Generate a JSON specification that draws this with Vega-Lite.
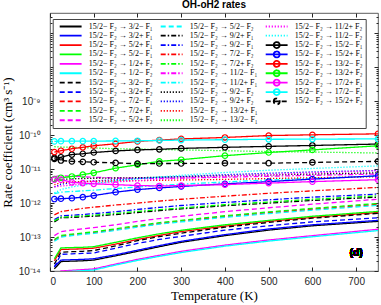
{
"$schema": "https://vega.github.io/schema/vega-lite/v6.json",
"width": 328, "height": 258,
"autosize": {"type": "none"},
"padding": {"left": 50, "top": 13, "right": 3, "bottom": 34},
"title": {"text": "OH-oH2 rates", "fontSize": 10, "fontWeight": "bold", "font": "Liberation Sans", "anchor": "middle", "offset": 3, "color": "black"},
"config": {"view": {"stroke": "#333333", "strokeWidth": 0.8}, "font": "Liberation Sans"},
"data": {"values": [
{"s":"3/2− F₁","T":10,"k":1.15e-14},{"s":"3/2− F₁","T":25,"k":1.9e-14},{"s":"3/2− F₁","T":50,"k":1.95e-14},{"s":"3/2− F₁","T":75,"k":2.0e-14},{"s":"3/2− F₁","T":100,"k":2.1e-14},{"s":"3/2− F₁","T":150,"k":2.8e-14},{"s":"3/2− F₁","T":200,"k":3.8e-14},{"s":"3/2− F₁","T":250,"k":5.2e-14},{"s":"3/2− F₁","T":300,"k":7.0e-14},{"s":"3/2− F₁","T":400,"k":1.1e-13},{"s":"3/2− F₁","T":500,"k":1.6e-13},{"s":"3/2− F₁","T":600,"k":2.15e-13},{"s":"3/2− F₁","T":750,"k":2.9e-13},
{"s":"3/2+ F₁","T":10,"k":1.35e-14},{"s":"3/2+ F₁","T":25,"k":2.1e-14},{"s":"3/2+ F₁","T":50,"k":2.15e-14},{"s":"3/2+ F₁","T":75,"k":2.2e-14},{"s":"3/2+ F₁","T":100,"k":2.3e-14},{"s":"3/2+ F₁","T":150,"k":3.0e-14},{"s":"3/2+ F₁","T":200,"k":4.1e-14},{"s":"3/2+ F₁","T":250,"k":5.6e-14},{"s":"3/2+ F₁","T":300,"k":7.5e-14},{"s":"3/2+ F₁","T":400,"k":1.18e-13},{"s":"3/2+ F₁","T":500,"k":1.73e-13},{"s":"3/2+ F₁","T":600,"k":2.3e-13},{"s":"3/2+ F₁","T":750,"k":3.1e-13},
{"s":"5/2+ F₁","T":10,"k":2.0e-14},{"s":"5/2+ F₁","T":25,"k":4.3e-14},{"s":"5/2+ F₁","T":50,"k":4.4e-14},{"s":"5/2+ F₁","T":75,"k":4.5e-14},{"s":"5/2+ F₁","T":100,"k":4.7e-14},{"s":"5/2+ F₁","T":150,"k":6.2e-14},{"s":"5/2+ F₁","T":200,"k":8.5e-14},{"s":"5/2+ F₁","T":250,"k":1.12e-13},{"s":"5/2+ F₁","T":300,"k":1.45e-13},{"s":"5/2+ F₁","T":400,"k":2.1e-13},{"s":"5/2+ F₁","T":500,"k":2.9e-13},{"s":"5/2+ F₁","T":600,"k":3.8e-13},{"s":"5/2+ F₁","T":750,"k":5.3e-13},
{"s":"5/2− F₁","T":10,"k":2.3e-14},{"s":"5/2− F₁","T":25,"k":4.8e-14},{"s":"5/2− F₁","T":50,"k":4.9e-14},{"s":"5/2− F₁","T":75,"k":5.0e-14},{"s":"5/2− F₁","T":100,"k":5.2e-14},{"s":"5/2− F₁","T":150,"k":7.0e-14},{"s":"5/2− F₁","T":200,"k":9.5e-14},{"s":"5/2− F₁","T":250,"k":1.25e-13},{"s":"5/2− F₁","T":300,"k":1.58e-13},{"s":"5/2− F₁","T":400,"k":2.3e-13},{"s":"5/2− F₁","T":500,"k":3.1e-13},{"s":"5/2− F₁","T":600,"k":4.1e-13},{"s":"5/2− F₁","T":750,"k":5.7e-13},
{"s":"1/2+ F₂","T":10,"k":6.0e-15},{"s":"1/2+ F₂","T":25,"k":1.0e-14},{"s":"1/2+ F₂","T":50,"k":1.05e-14},{"s":"1/2+ F₂","T":75,"k":1.1e-14},{"s":"1/2+ F₂","T":100,"k":1.15e-14},{"s":"1/2+ F₂","T":150,"k":1.6e-14},{"s":"1/2+ F₂","T":200,"k":2.2e-14},{"s":"1/2+ F₂","T":250,"k":2.9e-14},{"s":"1/2+ F₂","T":300,"k":3.8e-14},{"s":"1/2+ F₂","T":400,"k":5.8e-14},{"s":"1/2+ F₂","T":500,"k":8.2e-14},{"s":"1/2+ F₂","T":600,"k":1.1e-13},{"s":"1/2+ F₂","T":750,"k":1.7e-13},
{"s":"1/2− F₂","T":10,"k":5.6e-15},{"s":"1/2− F₂","T":25,"k":9.5e-15},{"s":"1/2− F₂","T":50,"k":9.8e-15},{"s":"1/2− F₂","T":75,"k":1.02e-14},{"s":"1/2− F₂","T":100,"k":1.07e-14},{"s":"1/2− F₂","T":150,"k":1.5e-14},{"s":"1/2− F₂","T":200,"k":2.05e-14},{"s":"1/2− F₂","T":250,"k":2.7e-14},{"s":"1/2− F₂","T":300,"k":3.5e-14},{"s":"1/2− F₂","T":400,"k":5.4e-14},{"s":"1/2− F₂","T":500,"k":7.6e-14},{"s":"1/2− F₂","T":600,"k":1.02e-13},{"s":"1/2− F₂","T":750,"k":1.55e-13},
{"s":"3/2− F₂","T":10,"k":1.6e-14},{"s":"3/2− F₂","T":25,"k":3.6e-14},{"s":"3/2− F₂","T":50,"k":3.7e-14},{"s":"3/2− F₂","T":75,"k":3.8e-14},{"s":"3/2− F₂","T":100,"k":4.0e-14},{"s":"3/2− F₂","T":150,"k":5.5e-14},{"s":"3/2− F₂","T":200,"k":7.8e-14},{"s":"3/2− F₂","T":250,"k":1.03e-13},{"s":"3/2− F₂","T":300,"k":1.3e-13},{"s":"3/2− F₂","T":400,"k":1.95e-13},{"s":"3/2− F₂","T":500,"k":2.7e-13},{"s":"3/2− F₂","T":600,"k":3.6e-13},{"s":"3/2− F₂","T":750,"k":5.0e-13},
{"s":"3/2+ F₂","T":10,"k":1.3e-14},{"s":"3/2+ F₂","T":25,"k":3.1e-14},{"s":"3/2+ F₂","T":50,"k":3.2e-14},{"s":"3/2+ F₂","T":75,"k":3.3e-14},{"s":"3/2+ F₂","T":100,"k":3.4e-14},{"s":"3/2+ F₂","T":150,"k":4.7e-14},{"s":"3/2+ F₂","T":200,"k":6.5e-14},{"s":"3/2+ F₂","T":250,"k":8.5e-14},{"s":"3/2+ F₂","T":300,"k":1.05e-13},{"s":"3/2+ F₂","T":400,"k":1.6e-13},{"s":"3/2+ F₂","T":500,"k":2.15e-13},{"s":"3/2+ F₂","T":600,"k":2.8e-13},{"s":"3/2+ F₂","T":750,"k":3.7e-13},
{"s":"7/2− F₁","T":10,"k":8.0e-14},{"s":"7/2− F₁","T":25,"k":1.05e-13},{"s":"7/2− F₁","T":50,"k":1.15e-13},{"s":"7/2− F₁","T":75,"k":1.25e-13},{"s":"7/2− F₁","T":100,"k":1.35e-13},{"s":"7/2− F₁","T":150,"k":1.65e-13},{"s":"7/2− F₁","T":200,"k":2.05e-13},{"s":"7/2− F₁","T":250,"k":2.5e-13},{"s":"7/2− F₁","T":300,"k":2.95e-13},{"s":"7/2− F₁","T":400,"k":4.0e-13},{"s":"7/2− F₁","T":500,"k":5.2e-13},{"s":"7/2− F₁","T":600,"k":6.6e-13},{"s":"7/2− F₁","T":750,"k":9.2e-13},
{"s":"7/2+ F₁","T":10,"k":8.5e-14},{"s":"7/2+ F₁","T":25,"k":1.12e-13},{"s":"7/2+ F₁","T":50,"k":1.22e-13},{"s":"7/2+ F₁","T":75,"k":1.32e-13},{"s":"7/2+ F₁","T":100,"k":1.42e-13},{"s":"7/2+ F₁","T":150,"k":1.75e-13},{"s":"7/2+ F₁","T":200,"k":2.18e-13},{"s":"7/2+ F₁","T":250,"k":2.65e-13},{"s":"7/2+ F₁","T":300,"k":3.1e-13},{"s":"7/2+ F₁","T":400,"k":4.25e-13},{"s":"7/2+ F₁","T":500,"k":5.5e-13},{"s":"7/2+ F₁","T":600,"k":7.0e-13},{"s":"7/2+ F₁","T":750,"k":9.8e-13},
{"s":"5/2+ F₂","T":10,"k":1.1e-13},{"s":"5/2+ F₂","T":25,"k":1.45e-13},{"s":"5/2+ F₂","T":50,"k":1.6e-13},{"s":"5/2+ F₂","T":75,"k":1.75e-13},{"s":"5/2+ F₂","T":100,"k":1.9e-13},{"s":"5/2+ F₂","T":150,"k":2.3e-13},{"s":"5/2+ F₂","T":200,"k":2.9e-13},{"s":"5/2+ F₂","T":250,"k":3.5e-13},{"s":"5/2+ F₂","T":300,"k":4.1e-13},{"s":"5/2+ F₂","T":400,"k":5.6e-13},{"s":"5/2+ F₂","T":500,"k":7.3e-13},{"s":"5/2+ F₂","T":600,"k":9.3e-13},{"s":"5/2+ F₂","T":750,"k":1.3e-12},
{"s":"5/2− F₂","T":10,"k":7.5e-14},{"s":"5/2− F₂","T":25,"k":1.0e-13},{"s":"5/2− F₂","T":50,"k":1.1e-13},{"s":"5/2− F₂","T":75,"k":1.2e-13},{"s":"5/2− F₂","T":100,"k":1.28e-13},{"s":"5/2− F₂","T":150,"k":1.58e-13},{"s":"5/2− F₂","T":200,"k":1.95e-13},{"s":"5/2− F₂","T":250,"k":2.4e-13},{"s":"5/2− F₂","T":300,"k":2.8e-13},{"s":"5/2− F₂","T":400,"k":3.8e-13},{"s":"5/2− F₂","T":500,"k":4.9e-13},{"s":"5/2− F₂","T":600,"k":6.2e-13},{"s":"5/2− F₂","T":750,"k":8.6e-13},
{"s":"9/2+ F₁","T":10,"k":2.8e-13},{"s":"9/2+ F₁","T":25,"k":3.7e-13},{"s":"9/2+ F₁","T":50,"k":3.8e-13},{"s":"9/2+ F₁","T":75,"k":3.95e-13},{"s":"9/2+ F₁","T":100,"k":4.1e-13},{"s":"9/2+ F₁","T":150,"k":4.6e-13},{"s":"9/2+ F₁","T":200,"k":5.3e-13},{"s":"9/2+ F₁","T":250,"k":6.0e-13},{"s":"9/2+ F₁","T":300,"k":6.8e-13},{"s":"9/2+ F₁","T":400,"k":8.4e-13},{"s":"9/2+ F₁","T":500,"k":1.0e-12},{"s":"9/2+ F₁","T":600,"k":1.2e-12},{"s":"9/2+ F₁","T":750,"k":1.5e-12},
{"s":"9/2− F₁","T":10,"k":3.3e-13},{"s":"9/2− F₁","T":25,"k":4.2e-13},{"s":"9/2− F₁","T":50,"k":4.4e-13},{"s":"9/2− F₁","T":75,"k":4.6e-13},{"s":"9/2− F₁","T":100,"k":4.9e-13},{"s":"9/2− F₁","T":150,"k":5.6e-13},{"s":"9/2− F₁","T":200,"k":6.5e-13},{"s":"9/2− F₁","T":250,"k":7.5e-13},{"s":"9/2− F₁","T":300,"k":8.5e-13},{"s":"9/2− F₁","T":400,"k":1.05e-12},{"s":"9/2− F₁","T":500,"k":1.25e-12},{"s":"9/2− F₁","T":600,"k":1.5e-12},{"s":"9/2− F₁","T":750,"k":1.85e-12},
{"s":"7/2− F₂","T":10,"k":4.5e-13},{"s":"7/2− F₂","T":25,"k":5.6e-13},{"s":"7/2− F₂","T":50,"k":6.3e-13},{"s":"7/2− F₂","T":75,"k":7.0e-13},{"s":"7/2− F₂","T":100,"k":7.6e-13},{"s":"7/2− F₂","T":150,"k":8.8e-13},{"s":"7/2− F₂","T":200,"k":1.0e-12},{"s":"7/2− F₂","T":250,"k":1.15e-12},{"s":"7/2− F₂","T":300,"k":1.3e-12},{"s":"7/2− F₂","T":400,"k":1.6e-12},{"s":"7/2− F₂","T":500,"k":1.95e-12},{"s":"7/2− F₂","T":600,"k":2.3e-12},{"s":"7/2− F₂","T":750,"k":2.9e-12},
{"s":"7/2+ F₂","T":10,"k":3.0e-13},{"s":"7/2+ F₂","T":25,"k":3.85e-13},{"s":"7/2+ F₂","T":50,"k":4.0e-13},{"s":"7/2+ F₂","T":75,"k":4.2e-13},{"s":"7/2+ F₂","T":100,"k":4.4e-13},{"s":"7/2+ F₂","T":150,"k":5.0e-13},{"s":"7/2+ F₂","T":200,"k":5.7e-13},{"s":"7/2+ F₂","T":250,"k":6.4e-13},{"s":"7/2+ F₂","T":300,"k":7.2e-13},{"s":"7/2+ F₂","T":400,"k":9.0e-13},{"s":"7/2+ F₂","T":500,"k":1.08e-12},{"s":"7/2+ F₂","T":600,"k":1.3e-12},{"s":"7/2+ F₂","T":750,"k":1.65e-12},
{"s":"11/2− F₁","T":10,"k":6.0e-12},{"s":"11/2− F₁","T":25,"k":6.5e-12},{"s":"11/2− F₁","T":50,"k":6.2e-12},{"s":"11/2− F₁","T":75,"k":6.0e-12},{"s":"11/2− F₁","T":100,"k":5.8e-12},{"s":"11/2− F₁","T":150,"k":5.5e-12},{"s":"11/2− F₁","T":200,"k":5.4e-12},{"s":"11/2− F₁","T":250,"k":5.4e-12},{"s":"11/2− F₁","T":300,"k":5.5e-12},{"s":"11/2− F₁","T":400,"k":5.8e-12},{"s":"11/2− F₁","T":500,"k":6.2e-12},{"s":"11/2− F₁","T":600,"k":6.6e-12},{"s":"11/2− F₁","T":750,"k":7.2e-12},
{"s":"11/2+ F₁","T":10,"k":1.9e-12},{"s":"11/2+ F₁","T":25,"k":2.1e-12},{"s":"11/2+ F₁","T":50,"k":2.2e-12},{"s":"11/2+ F₁","T":75,"k":2.3e-12},{"s":"11/2+ F₁","T":100,"k":2.4e-12},{"s":"11/2+ F₁","T":150,"k":2.7e-12},{"s":"11/2+ F₁","T":200,"k":3.0e-12},{"s":"11/2+ F₁","T":250,"k":3.3e-12},{"s":"11/2+ F₁","T":300,"k":3.6e-12},{"s":"11/2+ F₁","T":400,"k":4.2e-12},{"s":"11/2+ F₁","T":500,"k":4.8e-12},{"s":"11/2+ F₁","T":600,"k":5.4e-12},{"s":"11/2+ F₁","T":750,"k":6.2e-12},
{"s":"9/2− F₂","T":10,"k":4.5e-12},{"s":"9/2− F₂","T":25,"k":5.0e-12},{"s":"9/2− F₂","T":50,"k":5.2e-12},{"s":"9/2− F₂","T":75,"k":5.3e-12},{"s":"9/2− F₂","T":100,"k":5.4e-12},{"s":"9/2− F₂","T":150,"k":5.5e-12},{"s":"9/2− F₂","T":200,"k":5.6e-12},{"s":"9/2− F₂","T":250,"k":5.8e-12},{"s":"9/2− F₂","T":300,"k":6.0e-12},{"s":"9/2− F₂","T":400,"k":6.4e-12},{"s":"9/2− F₂","T":500,"k":6.8e-12},{"s":"9/2− F₂","T":600,"k":7.2e-12},{"s":"9/2− F₂","T":750,"k":7.8e-12},
{"s":"9/2+ F₂","T":10,"k":3.0e-12},{"s":"9/2+ F₂","T":25,"k":3.6e-12},{"s":"9/2+ F₂","T":50,"k":4.0e-12},{"s":"9/2+ F₂","T":75,"k":4.3e-12},{"s":"9/2+ F₂","T":100,"k":4.5e-12},{"s":"9/2+ F₂","T":150,"k":4.9e-12},{"s":"9/2+ F₂","T":200,"k":5.3e-12},{"s":"9/2+ F₂","T":250,"k":5.7e-12},{"s":"9/2+ F₂","T":300,"k":6.1e-12},{"s":"9/2+ F₂","T":400,"k":6.9e-12},{"s":"9/2+ F₂","T":500,"k":7.6e-12},{"s":"9/2+ F₂","T":600,"k":8.3e-12},{"s":"9/2+ F₂","T":750,"k":9.2e-12},
{"s":"13/2+ F₁","T":10,"k":3.5e-12},{"s":"13/2+ F₁","T":25,"k":4.0e-12},{"s":"13/2+ F₁","T":50,"k":4.2e-12},{"s":"13/2+ F₁","T":75,"k":4.3e-12},{"s":"13/2+ F₁","T":100,"k":4.4e-12},{"s":"13/2+ F₁","T":150,"k":4.5e-12},{"s":"13/2+ F₁","T":200,"k":4.6e-12},{"s":"13/2+ F₁","T":250,"k":4.7e-12},{"s":"13/2+ F₁","T":300,"k":4.8e-12},{"s":"13/2+ F₁","T":400,"k":5.0e-12},{"s":"13/2+ F₁","T":500,"k":5.3e-12},{"s":"13/2+ F₁","T":600,"k":5.6e-12},{"s":"13/2+ F₁","T":750,"k":6.0e-12},
{"s":"13/2− F₁","T":10,"k":4.6e-11},{"s":"13/2− F₁","T":25,"k":4.5e-11},{"s":"13/2− F₁","T":50,"k":4.4e-11},{"s":"13/2− F₁","T":75,"k":4.3e-11},{"s":"13/2− F₁","T":100,"k":4.2e-11},{"s":"13/2− F₁","T":150,"k":4.0e-11},{"s":"13/2− F₁","T":200,"k":3.9e-11},{"s":"13/2− F₁","T":250,"k":3.8e-11},{"s":"13/2− F₁","T":300,"k":3.7e-11},{"s":"13/2− F₁","T":400,"k":3.5e-11},{"s":"13/2− F₁","T":500,"k":3.3e-11},{"s":"13/2− F₁","T":600,"k":3.2e-11},{"s":"13/2− F₁","T":750,"k":3.0e-11},
{"s":"11/2+ F₂","T":10,"k":3.0e-12},{"s":"11/2+ F₂","T":25,"k":3.2e-12},{"s":"11/2+ F₂","T":50,"k":3.4e-12},{"s":"11/2+ F₂","T":75,"k":3.6e-12},{"s":"11/2+ F₂","T":100,"k":3.8e-12},{"s":"11/2+ F₂","T":150,"k":4.2e-12},{"s":"11/2+ F₂","T":200,"k":4.6e-12},{"s":"11/2+ F₂","T":250,"k":5.0e-12},{"s":"11/2+ F₂","T":300,"k":5.4e-12},{"s":"11/2+ F₂","T":400,"k":6.2e-12},{"s":"11/2+ F₂","T":500,"k":7.0e-12},{"s":"11/2+ F₂","T":600,"k":7.8e-12},{"s":"11/2+ F₂","T":750,"k":9.0e-12},
{"s":"11/2− F₂","T":10,"k":2.0e-12},{"s":"11/2− F₂","T":25,"k":2.5e-12},{"s":"11/2− F₂","T":50,"k":3.0e-12},{"s":"11/2− F₂","T":75,"k":3.4e-12},{"s":"11/2− F₂","T":100,"k":3.8e-12},{"s":"11/2− F₂","T":150,"k":4.5e-12},{"s":"11/2− F₂","T":200,"k":5.2e-12},{"s":"11/2− F₂","T":250,"k":5.9e-12},{"s":"11/2− F₂","T":300,"k":6.6e-12},{"s":"11/2− F₂","T":400,"k":8.0e-12},{"s":"11/2− F₂","T":500,"k":9.3e-12},{"s":"11/2− F₂","T":600,"k":1.05e-11},{"s":"11/2− F₂","T":750,"k":1.25e-11},
{"s":"15/2− F₁","T":10,"k":2.15e-11},{"s":"15/2− F₁","T":25,"k":2.25e-11},{"s":"15/2− F₁","T":50,"k":2.7e-11},{"s":"15/2− F₁","T":75,"k":2.85e-11},{"s":"15/2− F₁","T":100,"k":3.1e-11},{"s":"15/2− F₁","T":150,"k":3.45e-11},{"s":"15/2− F₁","T":200,"k":3.7e-11},{"s":"15/2− F₁","T":250,"k":3.85e-11},{"s":"15/2− F₁","T":300,"k":4.1e-11},{"s":"15/2− F₁","T":400,"k":4.4e-11},{"s":"15/2− F₁","T":500,"k":4.7e-11},{"s":"15/2− F₁","T":600,"k":5.0e-11},{"s":"15/2− F₁","T":750,"k":5.5e-11},
{"s":"15/2+ F₁","T":10,"k":1.32e-12},{"s":"15/2+ F₁","T":25,"k":1.35e-12},{"s":"15/2+ F₁","T":50,"k":1.4e-12},{"s":"15/2+ F₁","T":75,"k":1.5e-12},{"s":"15/2+ F₁","T":100,"k":1.67e-12},{"s":"15/2+ F₁","T":150,"k":2.1e-12},{"s":"15/2+ F₁","T":200,"k":2.5e-12},{"s":"15/2+ F₁","T":250,"k":2.8e-12},{"s":"15/2+ F₁","T":300,"k":3.1e-12},{"s":"15/2+ F₁","T":400,"k":3.7e-12},{"s":"15/2+ F₁","T":500,"k":4.3e-12},{"s":"15/2+ F₁","T":600,"k":5.1e-12},{"s":"15/2+ F₁","T":750,"k":6.4e-12},
{"s":"13/2− F₂","T":10,"k":3.2e-11},{"s":"13/2− F₂","T":25,"k":3.5e-11},{"s":"13/2− F₂","T":50,"k":4.0e-11},{"s":"13/2− F₂","T":75,"k":4.4e-11},{"s":"13/2− F₂","T":100,"k":4.9e-11},{"s":"13/2− F₂","T":150,"k":5.6e-11},{"s":"13/2− F₂","T":200,"k":6.6e-11},{"s":"13/2− F₂","T":250,"k":7.2e-11},{"s":"13/2− F₂","T":300,"k":7.8e-11},{"s":"13/2− F₂","T":400,"k":8.6e-11},{"s":"13/2− F₂","T":500,"k":9.8e-11},{"s":"13/2− F₂","T":600,"k":1.03e-10},{"s":"13/2− F₂","T":750,"k":1.1e-10},
{"s":"13/2+ F₂","T":10,"k":5.1e-12},{"s":"13/2+ F₂","T":25,"k":5.6e-12},{"s":"13/2+ F₂","T":50,"k":6.1e-12},{"s":"13/2+ F₂","T":75,"k":6.9e-12},{"s":"13/2+ F₂","T":100,"k":7.8e-12},{"s":"13/2+ F₂","T":150,"k":1.07e-11},{"s":"13/2+ F₂","T":200,"k":1.35e-11},{"s":"13/2+ F₂","T":250,"k":1.7e-11},{"s":"13/2+ F₂","T":300,"k":1.9e-11},{"s":"13/2+ F₂","T":400,"k":2.5e-11},{"s":"13/2+ F₂","T":500,"k":3.1e-11},{"s":"13/2+ F₂","T":600,"k":3.7e-11},{"s":"13/2+ F₂","T":750,"k":4.9e-11},
{"s":"17/2+ F₁","T":10,"k":4.9e-12},{"s":"17/2+ F₁","T":25,"k":4.9e-12},{"s":"17/2+ F₁","T":50,"k":4.1e-12},{"s":"17/2+ F₁","T":75,"k":3.9e-12},{"s":"17/2+ F₁","T":100,"k":3.7e-12},{"s":"17/2+ F₁","T":150,"k":3.5e-12},{"s":"17/2+ F₁","T":200,"k":3.3e-12},{"s":"17/2+ F₁","T":250,"k":3.2e-12},{"s":"17/2+ F₁","T":300,"k":3.3e-12},{"s":"17/2+ F₁","T":400,"k":3.5e-12},{"s":"17/2+ F₁","T":500,"k":3.9e-12},{"s":"17/2+ F₁","T":600,"k":4.3e-12},{"s":"17/2+ F₁","T":750,"k":4.9e-12},
{"s":"17/2− F₁","T":10,"k":6.6e-11},{"s":"17/2− F₁","T":25,"k":6.7e-11},{"s":"17/2− F₁","T":50,"k":6.7e-11},{"s":"17/2− F₁","T":75,"k":6.7e-11},{"s":"17/2− F₁","T":100,"k":6.7e-11},{"s":"17/2− F₁","T":150,"k":6.8e-11},{"s":"17/2− F₁","T":200,"k":6.9e-11},{"s":"17/2− F₁","T":250,"k":7.0e-11},{"s":"17/2− F₁","T":300,"k":7.2e-11},{"s":"17/2− F₁","T":400,"k":7.4e-11},{"s":"17/2− F₁","T":500,"k":7.6e-11},{"s":"17/2− F₁","T":600,"k":7.7e-11},{"s":"17/2− F₁","T":750,"k":7.8e-11},
{"s":"15/2+ F₂","T":10,"k":2.0e-11},{"s":"15/2+ F₂","T":25,"k":1.8e-11},{"s":"15/2+ F₂","T":50,"k":1.7e-11},{"s":"15/2+ F₂","T":75,"k":1.65e-11},{"s":"15/2+ F₂","T":100,"k":1.6e-11},{"s":"15/2+ F₂","T":150,"k":1.53e-11},{"s":"15/2+ F₂","T":200,"k":1.45e-11},{"s":"15/2+ F₂","T":250,"k":1.47e-11},{"s":"15/2+ F₂","T":300,"k":1.47e-11},{"s":"15/2+ F₂","T":400,"k":1.5e-11},{"s":"15/2+ F₂","T":500,"k":1.5e-11},{"s":"15/2+ F₂","T":600,"k":1.58e-11},{"s":"15/2+ F₂","T":750,"k":1.7e-11}
]},
"resolve": {"axis": {"x": "independent", "y": "independent"}},
"layer": [
{
"mark": {"type": "line", "strokeWidth": 1.3, "clip": true},
"encoding": {
"x": {"field": "T", "type": "quantitative", "scale": {"domain": [0, 750], "nice": false, "zero": false},
  "axis": {"orient": "bottom", "values": [0,100,200,300,400,500,600,700], "tickSize": -4, "tickColor": "#262626", "labelPadding": 9, "labelFontSize": 10, "labelColor": "#262626", "domain": false, "grid": false, "title": "Temperature (K)", "titleFont": "Liberation Serif", "titleFontSize": 13, "titleFontWeight": "normal", "titleColor": "black", "titlePadding": 3}},
"y": {"field": "k", "type": "quantitative", "scale": {"type": "log", "domain": [1e-14, 4e-7], "nice": false},
  "axis": {"orient": "left", "values": [1e-14,1e-13,1e-12,1e-11,1e-10,1e-9,1e-8,1e-7], "tickSize": -4, "tickColor": "#262626", "labelPadding": 14, "labelFontSize": 10, "labelColor": "#262626", "domain": false, "grid": false,
  "labelExpr": "datum.value < 1.5e-14 ? '10⁻¹⁴' : datum.value < 1.5e-13 ? '10⁻¹³' : datum.value < 1.5e-12 ? '10⁻¹²' : datum.value < 1.5e-11 ? '10⁻¹¹' : datum.value < 1.5e-10 ? '10⁻¹⁰' : datum.value < 1.5e-9 ? '10⁻⁹' : ''",
  "title": "Rate coefficient (cm³ s⁻¹)", "titleFont": "Liberation Serif", "titleFontSize": 13, "titleFontWeight": "normal", "titleColor": "black", "titlePadding": 4}},
"color": {"field": "s", "type": "nominal",
  "scale": {"domain": ["3/2− F₁","3/2+ F₁","5/2+ F₁","5/2− F₁","1/2+ F₂","1/2− F₂","3/2− F₂","3/2+ F₂","7/2− F₁","7/2+ F₁","5/2+ F₂","5/2− F₂","9/2+ F₁","9/2− F₁","7/2− F₂","7/2+ F₂","11/2− F₁","11/2+ F₁","9/2− F₂","9/2+ F₂","13/2+ F₁","13/2− F₁","11/2+ F₂","11/2− F₂","15/2− F₁","15/2+ F₁","13/2− F₂","13/2+ F₂","17/2+ F₁","17/2− F₁","15/2+ F₂","x1","x2"],
  "range": ["#000000","#0000ff","#ff0000","#00ff00","#ff00ff","#00ffff","#000000","#0000ff","#ff0000","#00ff00","#ff00ff","#00ffff","#000000","#0000ff","#ff0000","#00ff00","#ff00ff","#00ffff","#000000","#0000ff","#ff0000","#00ff00","#ff00ff","#00ffff","#000000","#0000ff","#ff0000","#00ff00","#ff00ff","#00ffff","#000000","transparent","transparent"]},
  "legend": {"orient": "none", "legendX": 2.7, "legendY": 6, "columns": 3, "symbolLimit": 40, "title": null, "labelFont": "Liberation Serif", "labelFontSize": 8, "labelColor": "black", "labelLimit": 200, "symbolSize": 36, "symbolStrokeWidth": 1.8, "symbolOffset": 3, "labelOffset": 22, "rowPadding": 0.4, "clipHeight": 8.5, "columnPadding": 4, "padding": 3, "fillColor": "white", "strokeColor": "#444444",
   "labelExpr": "indexof(datum.label, 'x') == 0 ? '' : '15/2− F₂ → ' + datum.label",
   "encode": {"symbols": {"update": {"shape": {"signal": "indexof(['15/2− F₁','15/2+ F₁','13/2− F₂','13/2+ F₂','17/2+ F₁','17/2− F₁','15/2+ F₂'], datum.value) >= 0 ? 'M-1,0L6.3,0M1.67,0A1,1 0 1,1 3.67,0A1,1 0 1,1 1.67,0' : 'M-1,0L6.3,0'"}}}}}},
"strokeDash": {"field": "s", "type": "nominal",
  "scale": {"domain": ["3/2− F₁","3/2+ F₁","5/2+ F₁","5/2− F₁","1/2+ F₂","1/2− F₂","3/2− F₂","3/2+ F₂","7/2− F₁","7/2+ F₁","5/2+ F₂","5/2− F₂","9/2+ F₁","9/2− F₁","7/2− F₂","7/2+ F₂","11/2− F₁","11/2+ F₁","9/2− F₂","9/2+ F₂","13/2+ F₁","13/2− F₁","11/2+ F₂","11/2− F₂","15/2− F₁","15/2+ F₁","13/2− F₂","13/2+ F₂","17/2+ F₁","17/2− F₁","15/2+ F₂","x1","x2"],
  "range": [[1,0],[1,0],[1,0],[1,0],[1,0],[1,0],[5,3],[5,3],[5,3],[5,3],[5,3],[5,3],[5,2,1.5,2],[5,2,1.5,2],[5,2,1.5,2],[5,2,1.5,2],[5,2,1.5,2],[5,2,1.5,2],[1.2,1.8],[1.2,1.8],[1.2,1.8],[1.2,1.8],[1.2,1.8],[1.2,1.8],[1,0],[1,0],[1,0],[1,0],[1,0],[1,0],[5,3],[1,0],[1,0]]}}
}
},
{
"transform": [{"filter": {"field": "s", "oneOf": ["15/2− F₁","15/2+ F₁","13/2− F₂","13/2+ F₂","17/2+ F₁","17/2− F₁","15/2+ F₂"]}}],
"mark": {"type": "point", "filled": false, "size": 30, "strokeWidth": 1.2, "clip": true, "opacity": 1},
"encoding": {
"x": {"field": "T", "type": "quantitative", "axis": {"orient": "top", "values": [0,100,200,300,400,500,600,700], "tickSize": -4, "tickColor": "#262626", "labels": false, "domain": false, "grid": false, "title": null}},
"y": {"field": "k", "type": "quantitative", "axis": {"orient": "right", "values": [1e-14,1e-13,1e-12,1e-11,1e-10,1e-9,1e-8,1e-7], "tickSize": -4, "tickColor": "#262626", "labels": false, "domain": false, "grid": false, "title": null}},
"color": {"field": "s", "type": "nominal", "legend": null}
}
},
{
"mark": {"type": "text", "text": "(d)", "fontWeight": "bold", "fontSize": 10, "font": "Liberation Sans", "color": "black"},
"encoding": {
"x": {"datum": 700, "type": "quantitative", "axis": null},
"y": {"datum": 3.5e-14, "type": "quantitative", "axis": {"orient": "left", "values": [2e-14,3e-14,4e-14,5e-14,6e-14,7e-14,8e-14,9e-14,2e-13,3e-13,4e-13,5e-13,6e-13,7e-13,8e-13,9e-13,2e-12,3e-12,4e-12,5e-12,6e-12,7e-12,8e-12,9e-12,2e-11,3e-11,4e-11,5e-11,6e-11,7e-11,8e-11,9e-11,2e-10,3e-10,4e-10,5e-10,6e-10,7e-10,8e-10,9e-10,2e-9,3e-9,4e-9,5e-9,6e-9,7e-9,8e-9,9e-9,2e-8,3e-8,4e-8,5e-8,6e-8,7e-8,8e-8,9e-8,2e-7,3e-7], "tickSize": -2, "tickColor": "#262626", "labels": false, "domain": false, "grid": false, "title": null}}
}
},
{
"mark": {"type": "text", "text": ""},
"encoding": {
"x": {"datum": 700, "type": "quantitative", "axis": null},
"y": {"datum": 3.5e-14, "type": "quantitative", "axis": {"orient": "right", "values": [2e-14,3e-14,4e-14,5e-14,6e-14,7e-14,8e-14,9e-14,2e-13,3e-13,4e-13,5e-13,6e-13,7e-13,8e-13,9e-13,2e-12,3e-12,4e-12,5e-12,6e-12,7e-12,8e-12,9e-12,2e-11,3e-11,4e-11,5e-11,6e-11,7e-11,8e-11,9e-11,2e-10,3e-10,4e-10,5e-10,6e-10,7e-10,8e-10,9e-10,2e-9,3e-9,4e-9,5e-9,6e-9,7e-9,8e-9,9e-9,2e-8,3e-8,4e-8,5e-8,6e-8,7e-8,8e-8,9e-8,2e-7,3e-7], "tickSize": -2, "tickColor": "#262626", "labels": false, "domain": false, "grid": false, "title": null}}
}
}
]
}
